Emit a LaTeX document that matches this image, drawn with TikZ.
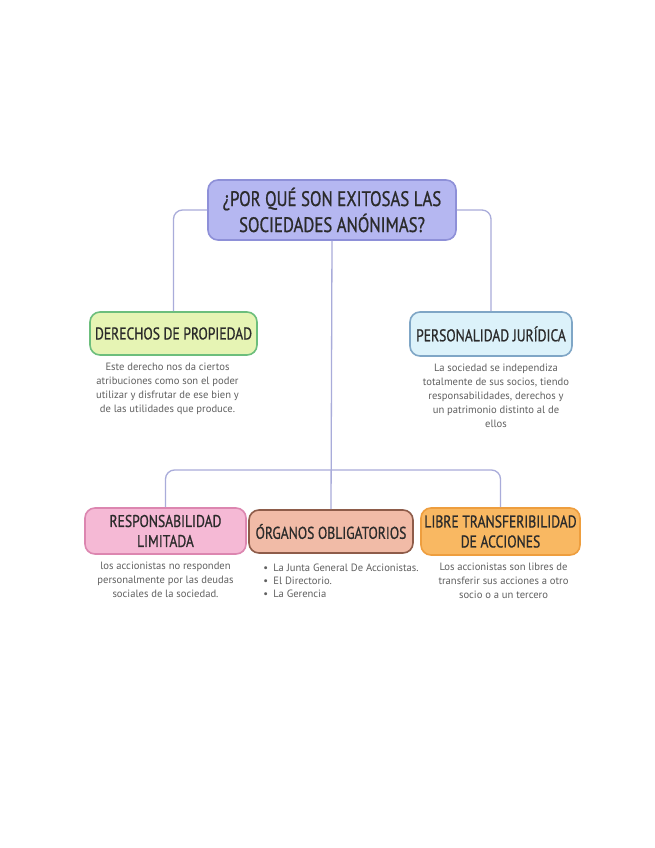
\documentclass[tikz,border=0pt]{standalone}
\usepackage{fontspec}
\setmainfont{PT Sans}
\newfontfamily\headfont[FakeStretch=0.8, FakeBold=0.8]{PT Sans}
\usetikzlibrary{positioning}
\definecolor{Lav}{HTML}{B5B7F1}
\definecolor{LavLine}{HTML}{8E90D8}
\definecolor{Link}{HTML}{A9ACDA}
\definecolor{Lime}{HTML}{E6F4B4}
\definecolor{LimeLine}{HTML}{6CBE7C}
\definecolor{Sky}{HTML}{DCF2FA}
\definecolor{SkyLine}{HTML}{7FA6C6}
\definecolor{Pink}{HTML}{F5B9D5}
\definecolor{PinkLine}{HTML}{DC86B0}
\definecolor{Salmon}{HTML}{F1BBA7}
\definecolor{SalmonLine}{HTML}{8E5C4A}
\definecolor{Amber}{HTML}{F9B862}
\definecolor{AmberLine}{HTML}{EE9E3E}
\definecolor{Ink}{HTML}{2B2B2B}
\definecolor{Note}{HTML}{606060}

\begin{document}
\begin{tikzpicture}[x=1pt, y=-1pt, node distance=7pt,
  box/.style={rounded corners=10pt, line width=1.6pt, inner sep=0pt, align=center, text=Ink, font=\headfont\fontsize{17}{20}\selectfont},
  desc/.style={inner sep=0pt, align=center, text=Note, font=\fontsize{10.6}{14}\selectfont},
  link/.style={draw=Link, line width=1.3pt, rounded corners=9pt}]
\useasboundingbox (0,0) rectangle (655,848);
\fill[white] (0,0) rectangle (655,848);

% main question
\node[box, fill=Lav, draw=LavLine, minimum width=248pt, minimum height=60pt, font=\headfont\fontsize{21}{26}\selectfont] (title) at (332,210) {¿POR QUÉ SON EXITOSAS LAS\\SOCIEDADES ANÓNIMAS?};

% first row
\node[box, fill=Lime, draw=LimeLine, minimum width=167pt, minimum height=43pt] (derechos) at (173.5,333.5) {DERECHOS DE PROPIEDAD};
\node[box, fill=Sky, draw=SkyLine, minimum width=162pt, minimum height=44pt] (persona) at (491,334) {PERSONALIDAD JURÍDICA};

\node[desc, below=of derechos, xshift=-6pt] (derechos-txt) {Este derecho nos da ciertos\\atribuciones como son el poder\\utilizar y disfrutar de ese bien y\\de las utilidades que produce.};
\node[desc, below=of persona, xshift=5pt] (persona-txt) {La sociedad se independiza\\totalmente de sus socios, tiendo\\responsabilidades, derechos y\\un patrimonio distinto al de\\ellos};

% second row
\node[box, fill=Pink, draw=PinkLine, minimum width=161pt, minimum height=46pt] (resp) at (165.5,531) {RESPONSABILIDAD\\LIMITADA};
\node[box, fill=Salmon, draw=SalmonLine, minimum width=164pt, minimum height=43pt] (organos) at (331,531.5) {ÓRGANOS OBLIGATORIOS};
\node[box, fill=Amber, draw=AmberLine, minimum width=159pt, minimum height=47pt] (libre) at (500.5,531.5) {LIBRE TRANSFERIBILIDAD\\DE ACCIONES};

\node[desc, below=of resp] (resp-txt) {los accionistas no responden\\personalmente por las deudas\\sociales de la sociedad.};
\node[desc, below=10pt of organos, xshift=10pt, align=left, font=\fontsize{10.6}{13}\selectfont] (organos-txt) {\textbullet\enspace La Junta General De Accionistas.\\\textbullet\enspace El Directorio.\\\textbullet\enspace La Gerencia};
\node[desc, below=of libre, xshift=3pt] (libre-txt) {Los accionistas son libres de\\transferir sus acciones a otro\\socio o a un tercero};

% connectors
\coordinate (bar) at (332,470);
\draw[link] (title.west) -| (derechos.north);
\draw[link] (title.east) -| (persona.north);
\draw[link] (title.south) -- (organos.north);
\draw[link] (resp.north) |- (bar) -| (libre.north);
\end{tikzpicture}
\end{document}
